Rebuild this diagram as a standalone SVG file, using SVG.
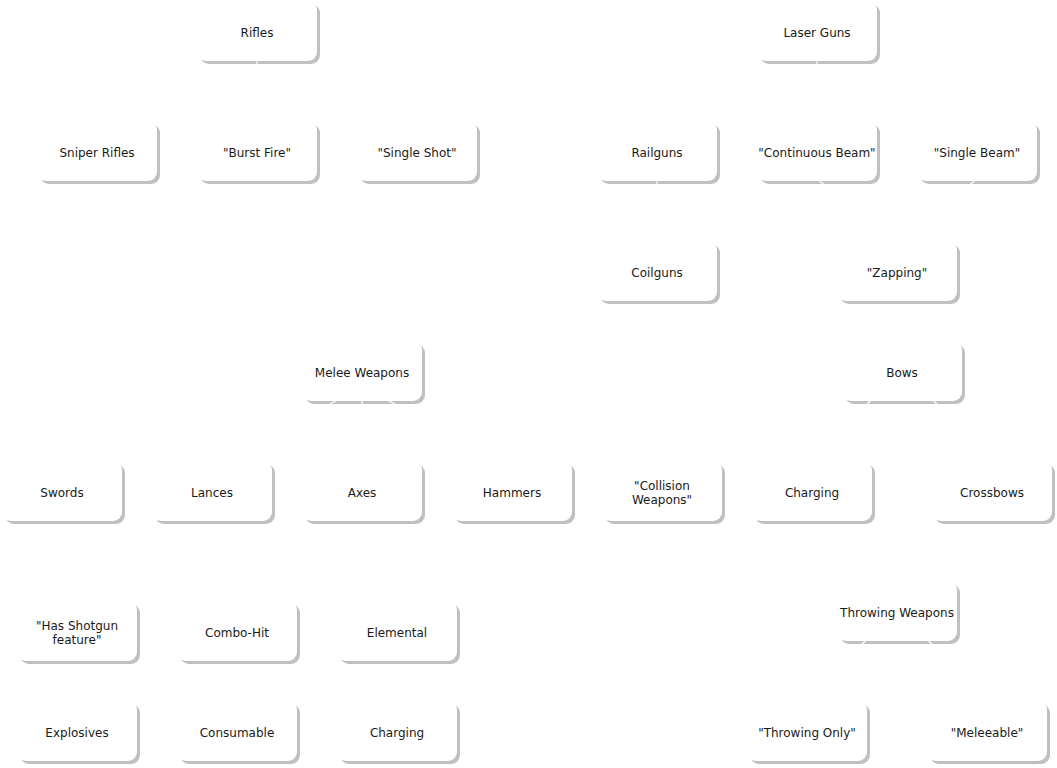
<svg xmlns="http://www.w3.org/2000/svg" width="1057" height="768" viewBox="0 0 1057 768">
<style>
.sh{fill:#c0c0c0}
.bx{fill:#ffffff}
.t{font-family:"DejaVu Sans",Verdana,sans-serif;font-size:12px;fill:#1a1a1a;text-anchor:middle;dominant-baseline:central}
.e{stroke:#ffffff;stroke-width:1.2;fill:none}
</style>
<defs>
<g id="card"><rect class="sh" x="3" y="3" width="120" height="60" rx="9"/><rect class="bx" x="0" y="0" width="120" height="60" rx="9"/></g>
</defs>
<rect width="1057" height="768" fill="#ffffff"/>
<g id="rifles"><use href="#card" x="197" y="1"/><text class="t" x="257" y="33">Rifles</text></g>
<g id="laser-guns"><use href="#card" x="757" y="1"/><text class="t" x="817" y="33">Laser Guns</text></g>
<g id="sniper-rifles"><use href="#card" x="37" y="121"/><text class="t" x="97" y="153">Sniper Rifles</text></g>
<g id="burst-fire"><use href="#card" x="197" y="121"/><text class="t" x="257" y="153">"Burst Fire"</text></g>
<g id="single-shot"><use href="#card" x="357" y="121"/><text class="t" x="417" y="153">"Single Shot"</text></g>
<g id="railguns"><use href="#card" x="597" y="121"/><text class="t" x="657" y="153">Railguns</text></g>
<g id="continuous-beam"><use href="#card" x="757" y="121"/><text class="t" x="817" y="153">"Continuous Beam"</text></g>
<g id="single-beam"><use href="#card" x="917" y="121"/><text class="t" x="977" y="153">"Single Beam"</text></g>
<g id="coilguns"><use href="#card" x="597" y="241"/><text class="t" x="657" y="273">Coilguns</text></g>
<g id="zapping"><use href="#card" x="837" y="241"/><text class="t" x="897" y="273">"Zapping"</text></g>
<g id="melee-weapons"><use href="#card" x="302" y="341"/><text class="t" x="362" y="373">Melee Weapons</text></g>
<g id="bows"><use href="#card" x="842" y="341"/><text class="t" x="902" y="373">Bows</text></g>
<g id="swords"><use href="#card" x="2" y="461"/><text class="t" x="62" y="493">Swords</text></g>
<g id="lances"><use href="#card" x="152" y="461"/><text class="t" x="212" y="493">Lances</text></g>
<g id="axes"><use href="#card" x="302" y="461"/><text class="t" x="362" y="493">Axes</text></g>
<g id="hammers"><use href="#card" x="452" y="461"/><text class="t" x="512" y="493">Hammers</text></g>
<g id="collision-weapons"><use href="#card" x="602" y="461"/><text class="t" x="662" y="486">"Collision</text><text class="t" x="662" y="500">Weapons"</text></g>
<g id="charging-bows"><use href="#card" x="752" y="461"/><text class="t" x="812" y="493">Charging</text></g>
<g id="crossbows"><use href="#card" x="932" y="461"/><text class="t" x="992" y="493">Crossbows</text></g>
<g id="has-shotgun-feature"><use href="#card" x="17" y="601"/><text class="t" x="77" y="626">"Has Shotgun</text><text class="t" x="77" y="640">feature"</text></g>
<g id="combo-hit"><use href="#card" x="177" y="601"/><text class="t" x="237" y="633">Combo-Hit</text></g>
<g id="elemental"><use href="#card" x="337" y="601"/><text class="t" x="397" y="633">Elemental</text></g>
<g id="throwing-weapons"><use href="#card" x="837" y="581"/><text class="t" x="897" y="613">Throwing Weapons</text></g>
<g id="explosives"><use href="#card" x="17" y="701"/><text class="t" x="77" y="733">Explosives</text></g>
<g id="consumable"><use href="#card" x="177" y="701"/><text class="t" x="237" y="733">Consumable</text></g>
<g id="charging"><use href="#card" x="337" y="701"/><text class="t" x="397" y="733">Charging</text></g>
<g id="throwing-only"><use href="#card" x="747" y="701"/><text class="t" x="807" y="733">"Throwing Only"</text></g>
<g id="meleeable"><use href="#card" x="927" y="701"/><text class="t" x="987" y="733">"Meleeable"</text></g>
<g id="connectors">
<line class="e" x1="257" y1="59" x2="257" y2="122"/>
<line class="e" x1="817" y1="59" x2="817" y2="122"/>
<line class="e" x1="657" y1="179" x2="657" y2="242"/>
<line class="e" x1="817" y1="179" x2="897" y2="242"/>
<line class="e" x1="977" y1="179" x2="897" y2="242"/>
<line class="e" x1="340" y1="399" x2="212" y2="462"/>
<line class="e" x1="362" y1="399" x2="362" y2="462"/>
<line class="e" x1="385" y1="399" x2="512" y2="462"/>
<line class="e" x1="872" y1="399" x2="812" y2="462"/>
<line class="e" x1="932" y1="399" x2="992" y2="462"/>
<line class="e" x1="867" y1="639" x2="807" y2="702"/>
<line class="e" x1="927" y1="639" x2="987" y2="702"/>
</g>
</svg>
